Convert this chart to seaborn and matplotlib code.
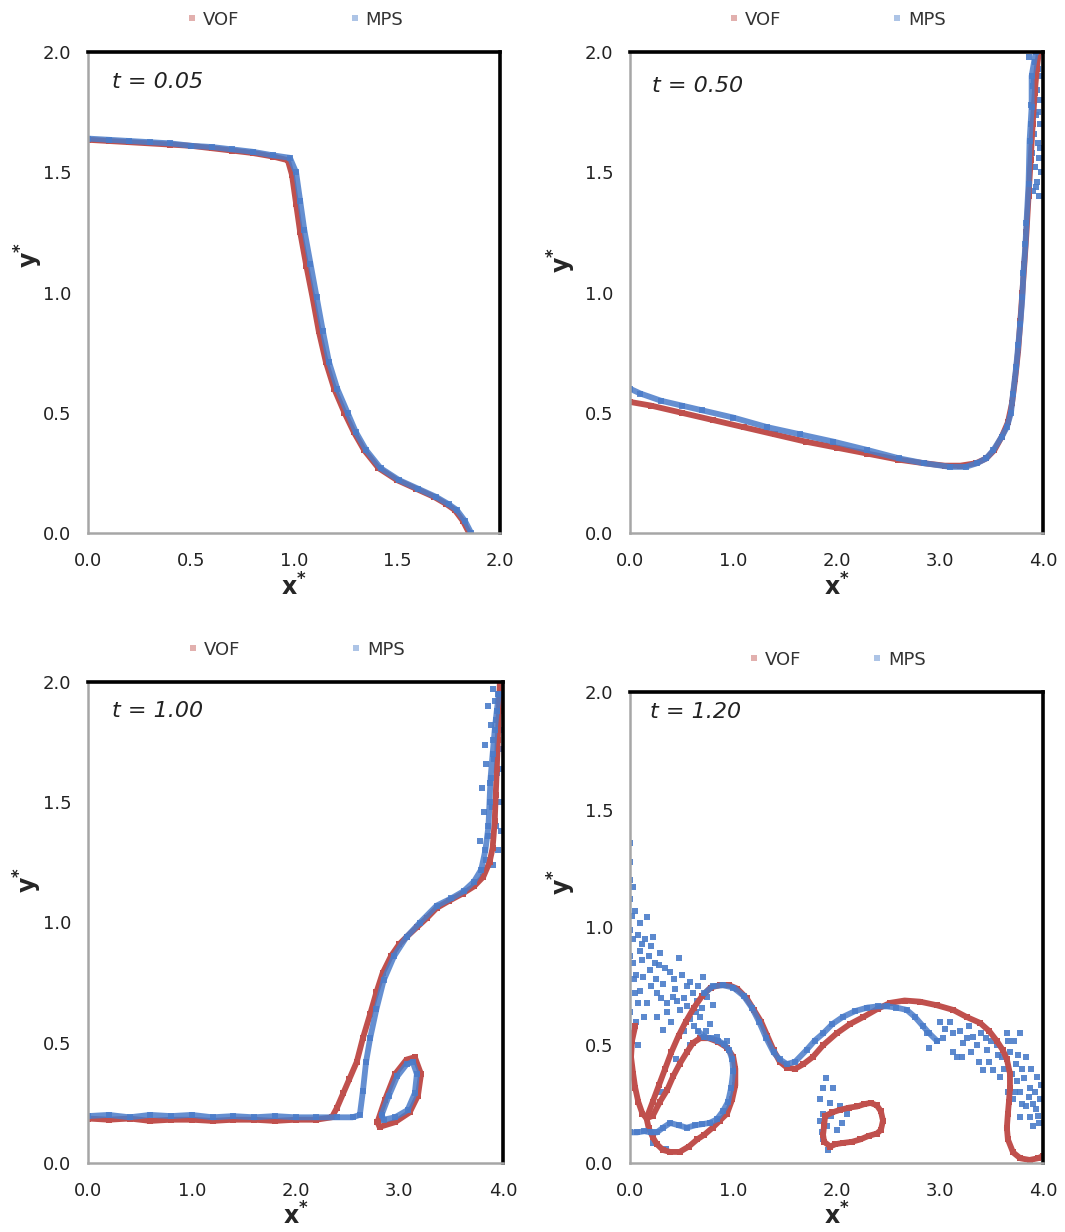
import matplotlib
matplotlib.use('Agg')
import matplotlib.pyplot as plt
from matplotlib.lines import Line2D
import seaborn as sns

# ---- data (x*, y*) ----
# t = 0.05
p1_vof = [(0.0, 1.635), (0.1, 1.63), (0.2, 1.625), (0.3, 1.62), (0.4, 1.615), (0.5, 1.61),
          (0.6, 1.60), (0.7, 1.59), (0.8, 1.58), (0.9, 1.565), (0.97, 1.55), (0.99, 1.49),
          (1.01, 1.37), (1.03, 1.25), (1.06, 1.11), (1.09, 0.98), (1.12, 0.84), (1.155, 0.71),
          (1.195, 0.60), (1.245, 0.50), (1.29, 0.42), (1.34, 0.345), (1.41, 0.27), (1.50, 0.22),
          (1.59, 0.185), (1.68, 0.15), (1.74, 0.12), (1.78, 0.096), (1.82, 0.05), (1.85, 0.0)]
p1_mps = [(0.0, 1.64), (0.1, 1.635), (0.2, 1.63), (0.3, 1.625), (0.4, 1.62), (0.5, 1.61),
          (0.6, 1.605), (0.7, 1.595), (0.8, 1.585), (0.9, 1.57), (0.98, 1.56), (1.01, 1.50),
          (1.03, 1.38), (1.05, 1.26), (1.08, 1.12), (1.11, 0.98), (1.14, 0.84), (1.17, 0.71),
          (1.21, 0.60), (1.26, 0.50), (1.30, 0.42), (1.35, 0.345), (1.42, 0.27), (1.51, 0.22),
          (1.60, 0.185), (1.69, 0.15), (1.75, 0.12), (1.79, 0.096), (1.83, 0.05), (1.86, 0.0)]

# t = 0.50
p2_vof = [(0.0, 0.545), (0.2, 0.53), (0.5, 0.50), (0.8, 0.47), (1.1, 0.44), (1.4, 0.41),
          (1.7, 0.38), (2.0, 0.355), (2.3, 0.33), (2.6, 0.305), (2.85, 0.29), (3.05, 0.28),
          (3.2, 0.28), (3.35, 0.29), (3.45, 0.31), (3.53, 0.345), (3.60, 0.40), (3.66, 0.46),
          (3.70, 0.54), (3.73, 0.64), (3.76, 0.76), (3.78, 0.88), (3.80, 1.0), (3.82, 1.12),
          (3.84, 1.25), (3.86, 1.40), (3.88, 1.55), (3.90, 1.70), (3.92, 1.83), (3.94, 1.93),
          (3.96, 2.0)]
p2_mps = [(0.0, 0.60), (0.1, 0.58), (0.3, 0.55), (0.5, 0.53), (0.7, 0.51), (1.0, 0.48),
          (1.33, 0.44), (1.65, 0.41), (1.97, 0.38), (2.3, 0.345), (2.61, 0.31), (2.85, 0.29),
          (3.10, 0.275), (3.25, 0.275), (3.36, 0.29), (3.45, 0.31), (3.52, 0.345), (3.60, 0.40),
          (3.65, 0.44), (3.69, 0.50), (3.71, 0.58), (3.74, 0.69), (3.76, 0.78), (3.78, 0.87),
          (3.80, 0.98), (3.81, 1.08), (3.83, 1.20), (3.84, 1.29), (3.86, 1.45), (3.87, 1.63),
          (3.89, 1.77), (3.89, 1.90), (3.93, 2.0)]
p2_mps_spray = [(3.86, 1.98), (3.92, 1.96), (3.95, 1.93), (3.97, 1.90), (3.90, 1.86), (3.94, 1.84),
                (3.96, 1.80), (3.88, 1.78), (3.93, 1.74), (3.97, 1.70), (3.91, 1.66), (3.95, 1.62),
                (3.89, 1.58), (3.96, 1.56), (3.92, 1.52), (3.98, 1.50), (3.94, 1.46), (3.90, 1.42),
                (3.96, 1.40), (3.93, 1.44), (3.97, 1.60), (3.95, 1.75), (3.88, 1.70), (3.91, 1.88)]

# t = 1.00
p3_vof = [(0.0, 0.185), (0.2, 0.18), (0.4, 0.185), (0.6, 0.175), (0.8, 0.18), (1.0, 0.18),
          (1.2, 0.175), (1.4, 0.18), (1.6, 0.18), (1.8, 0.175), (2.0, 0.18), (2.2, 0.18),
          (2.35, 0.19), (2.40, 0.23), (2.46, 0.29), (2.52, 0.35), (2.59, 0.42), (2.65, 0.52),
          (2.72, 0.62), (2.78, 0.71), (2.84, 0.79), (2.92, 0.86), (3.0, 0.91), (3.07, 0.94),
          (3.17, 0.98), (3.27, 1.02), (3.36, 1.06), (3.48, 1.09), (3.61, 1.12), (3.72, 1.15),
          (3.81, 1.19), (3.87, 1.25), (3.90, 1.31), (3.92, 1.42), (3.93, 1.53), (3.94, 1.64),
          (3.95, 1.76), (3.96, 1.88), (3.97, 2.0)]
p3_vof_loop = [(2.79, 0.17), (2.86, 0.26), (2.96, 0.37), (3.07, 0.43), (3.15, 0.44), (3.21, 0.37),
               (3.18, 0.28), (3.10, 0.21), (2.96, 0.17), (2.81, 0.15), (2.79, 0.17)]
p3_mps = [(0.0, 0.195), (0.2, 0.20), (0.4, 0.19), (0.6, 0.20), (0.8, 0.195), (1.0, 0.20),
          (1.2, 0.19), (1.4, 0.195), (1.6, 0.19), (1.8, 0.195), (2.0, 0.19), (2.2, 0.19),
          (2.4, 0.19), (2.55, 0.19), (2.62, 0.20), (2.65, 0.30), (2.68, 0.42), (2.72, 0.52),
          (2.78, 0.64), (2.85, 0.76), (2.95, 0.86), (3.07, 0.94), (3.2, 1.0), (3.36, 1.07),
          (3.5, 1.10), (3.62, 1.13), (3.72, 1.17), (3.79, 1.22), (3.83, 1.30), (3.86, 1.40),
          (3.87, 1.50), (3.88, 1.60), (3.90, 1.70), (3.92, 1.80), (3.94, 1.88), (3.96, 1.95)]
p3_mps_loop = [(2.83, 0.20), (2.90, 0.28), (2.98, 0.36), (3.07, 0.41), (3.13, 0.42), (3.17, 0.37),
               (3.15, 0.29), (3.08, 0.22), (2.96, 0.19), (2.85, 0.18), (2.83, 0.20)]
p3_mps_spray = [(3.80, 1.22), (3.84, 1.26), (3.90, 1.24), (3.95, 1.30), (3.78, 1.34), (3.86, 1.36),
                (3.93, 1.40), (3.98, 1.38), (3.82, 1.46), (3.89, 1.48), (3.96, 1.50), (3.80, 1.56),
                (3.87, 1.58), (3.94, 1.62), (3.84, 1.66), (3.91, 1.68), (3.97, 1.64), (3.83, 1.74),
                (3.90, 1.76), (3.96, 1.72), (3.88, 1.82), (3.93, 1.84), (3.99, 1.80), (3.86, 1.90),
                (3.92, 1.92), (3.97, 1.88), (3.90, 1.97), (3.95, 1.95)]

# t = 1.20
p4_vof_arch = [(0.05, 0.58), (0.02, 0.52), (0.01, 0.45), (0.03, 0.38), (0.05, 0.32), (0.08, 0.26),
               (0.12, 0.21), (0.16, 0.19), (0.22, 0.26), (0.28, 0.33), (0.34, 0.40), (0.40, 0.47),
               (0.47, 0.54), (0.54, 0.60), (0.62, 0.66), (0.70, 0.71), (0.78, 0.745), (0.87, 0.755),
               (0.96, 0.755), (1.04, 0.74), (1.13, 0.70), (1.20, 0.65), (1.27, 0.60), (1.33, 0.54),
               (1.39, 0.48), (1.45, 0.43), (1.52, 0.405), (1.60, 0.40), (1.68, 0.42), (1.77, 0.45),
               (1.87, 0.50), (2.0, 0.55), (2.13, 0.59), (2.26, 0.62), (2.4, 0.655), (2.52, 0.68),
               (2.66, 0.69), (2.81, 0.685), (2.97, 0.67), (3.13, 0.65), (3.26, 0.62), (3.39, 0.595),
               (3.48, 0.56), (3.55, 0.52), (3.61, 0.48), (3.65, 0.44), (3.68, 0.38), (3.68, 0.32),
               (3.67, 0.26), (3.66, 0.21), (3.65, 0.15), (3.66, 0.10), (3.71, 0.045), (3.78, 0.02),
               (3.87, 0.013), (3.95, 0.02), (4.0, 0.03)]
p4_vof_loop = [(0.16, 0.19), (0.22, 0.20), (0.29, 0.26), (0.36, 0.31), (0.42, 0.37), (0.48, 0.42),
               (0.55, 0.47), (0.61, 0.51), (0.68, 0.53), (0.76, 0.53), (0.85, 0.515), (0.94, 0.49),
               (1.0, 0.45), (1.02, 0.40), (1.02, 0.33), (0.99, 0.27), (0.94, 0.21), (0.87, 0.18),
               (0.80, 0.15), (0.72, 0.12), (0.65, 0.10), (0.57, 0.07), (0.48, 0.047), (0.39, 0.047),
               (0.32, 0.055), (0.26, 0.08), (0.22, 0.11), (0.18, 0.15), (0.16, 0.19)]
p4_vof_drop = [(1.88, 0.16), (1.89, 0.20), (1.96, 0.215), (2.03, 0.225), (2.12, 0.235), (2.20, 0.24),
               (2.27, 0.25), (2.33, 0.255), (2.39, 0.245), (2.43, 0.22), (2.45, 0.18), (2.43, 0.14),
               (2.39, 0.125), (2.31, 0.115), (2.23, 0.10), (2.15, 0.09), (2.06, 0.085), (1.99, 0.08),
               (1.94, 0.07), (1.88, 0.09), (1.87, 0.12), (1.88, 0.16)]
p4_mps_arch = [(0.72, 0.72), (0.80, 0.75), (0.90, 0.755), (1.0, 0.745), (1.10, 0.71), (1.18, 0.66),
               (1.25, 0.60), (1.32, 0.53), (1.39, 0.47), (1.45, 0.44), (1.52, 0.42), (1.60, 0.43),
               (1.71, 0.48), (1.79, 0.52), (1.87, 0.55), (1.96, 0.59), (2.06, 0.62), (2.18, 0.645),
               (2.30, 0.66), (2.40, 0.665), (2.49, 0.665), (2.58, 0.66), (2.68, 0.65), (2.76, 0.62),
               (2.84, 0.58), (2.90, 0.55), (2.97, 0.52)]
p4_mps_loop = [(0.0, 0.13), (0.07, 0.13), (0.14, 0.135), (0.20, 0.13), (0.26, 0.13), (0.32, 0.15),
               (0.39, 0.17), (0.47, 0.16), (0.55, 0.15), (0.63, 0.16), (0.70, 0.165), (0.77, 0.17),
               (0.84, 0.185), (0.90, 0.22), (0.95, 0.26), (0.98, 0.32), (1.0, 0.39), (0.99, 0.44),
               (0.96, 0.48), (0.91, 0.505), (0.85, 0.52), (0.78, 0.53), (0.72, 0.535), (0.66, 0.56)]
p4_mps_spray = [(0.0, 1.36), (0.0, 1.28), (0.03, 1.17), (0.0, 1.12), (0.05, 1.07), (0.16, 1.045),
                (0.10, 1.02), (0.0, 0.99), (0.22, 0.96), (0.03, 0.95), (0.10, 0.90), (0.29, 0.89),
                (0.47, 0.87), (0.03, 0.85), (0.19, 0.82), (0.39, 0.81), (0.13, 0.79), (0.32, 0.76),
                (0.55, 0.75), (0.71, 0.79), (0.10, 0.73), (0.26, 0.72), (0.42, 0.705), (0.61, 0.72),
                (0.75, 0.705), (0.36, 0.68), (0.55, 0.665), (0.16, 0.68), (0.68, 0.62), (0.36, 0.64),
                (0.0, 0.64), (0.32, 0.565), (0.77, 0.59), (0.58, 0.61), (0.48, 0.65), (0.06, 0.60),
                (0.20, 0.92), (0.25, 0.78), (0.05, 0.72), (0.12, 0.86), (0.44, 0.74), (0.52, 0.70),
                (0.65, 0.69), (0.28, 0.84), (0.02, 0.55), (0.08, 0.50), (0.06, 0.80), (0.0, 0.88),
                (0.15, 0.95), (0.40, 0.60), (0.62, 0.58), (0.84, 0.535), (0.94, 0.52),
                (0.30, 0.30), (0.45, 0.44), (0.58, 0.50), (0.22, 0.085), (0.35, 0.06),
                (0.0, 1.20), (0.02, 1.05), (0.08, 0.97), (0.12, 0.93), (0.18, 0.88), (0.24, 0.85),
                (0.34, 0.83), (0.43, 0.78), (0.50, 0.80), (0.58, 0.77), (0.66, 0.75), (0.70, 0.66),
                (0.64, 0.64), (0.46, 0.69), (0.30, 0.70), (0.20, 0.75), (0.08, 0.68), (0.14, 0.62),
                (0.04, 0.78), (0.26, 0.62), (0.52, 0.56), (0.74, 0.56), (0.80, 0.67),
                (1.87, 0.32), (1.97, 0.32), (1.84, 0.27), (1.94, 0.255), (2.03, 0.24), (1.87, 0.21),
                (1.91, 0.155), (2.0, 0.14), (1.87, 0.10), (1.92, 0.055), (2.10, 0.21), (1.90, 0.36),
                (1.84, 0.18), (1.86, 0.13), (2.05, 0.17), (1.95, 0.20),
                (2.88, 0.55), (2.90, 0.49), (2.97, 0.52), (3.05, 0.57), (3.13, 0.55), (3.13, 0.47),
                (3.17, 0.45), (3.23, 0.51), (3.32, 0.535), (3.28, 0.58), (3.40, 0.55), (3.46, 0.48),
                (3.42, 0.395), (3.52, 0.395), (3.50, 0.52), (3.58, 0.365), (3.60, 0.45), (3.68, 0.47),
                (3.65, 0.55), (3.72, 0.52), (3.78, 0.55), (3.84, 0.45), (3.80, 0.40), (3.75, 0.35),
                (3.71, 0.27), (3.78, 0.30), (3.87, 0.32), (3.94, 0.365), (3.97, 0.27), (3.90, 0.25),
                (3.87, 0.195), (3.78, 0.195), (3.90, 0.155), (3.95, 0.20), (3.84, 0.24), (3.74, 0.42),
                (3.56, 0.46), (3.36, 0.50), (3.20, 0.56), (3.0, 0.60), (3.92, 0.30), (3.98, 0.33),
                (3.66, 0.30), (3.03, 0.53), (3.10, 0.60), (3.22, 0.45), (3.30, 0.47), (3.38, 0.43),
                (3.48, 0.43), (3.55, 0.50), (3.62, 0.40), (3.70, 0.38), (3.76, 0.46), (3.82, 0.36),
                (3.88, 0.40), (3.93, 0.23), (3.86, 0.28), (3.80, 0.25), (3.96, 0.17), (3.73, 0.30),
                (3.66, 0.52), (3.45, 0.53), (3.26, 0.53)]

time_labels = ['t = 0.05', 't = 0.50', 't = 1.00', 't = 1.20']
x_limits = [2.0, 4.0, 4.0, 4.0]
x_steps = [0.5, 1.0, 1.0, 1.0]
series_names = ['VOF', 'MPS']

VOF_COLOR = '#c0504d'
MPS_COLOR = '#4a7cc9'

sns.set_theme(style='white')
plt.rcParams['font.family'] = ['DejaVu Sans']


def curve(ax, pts, color, alpha=1.0):
    xs = [p[0] for p in pts]
    ys = [p[1] for p in pts]
    sns.lineplot(x=xs, y=ys, sort=False, estimator=None, color=color, lw=4.2,
                 marker='s', markersize=4.5, markeredgewidth=0, alpha=alpha, ax=ax)


def spray(ax, pts, color):
    xs = [p[0] for p in pts]
    ys = [p[1] for p in pts]
    sns.scatterplot(x=xs, y=ys, marker='s', s=14, color=color, linewidth=0, alpha=0.9, ax=ax)


fig = plt.figure(figsize=(10.65, 12.32), dpi=100)
W, H = 1065, 1232
boxes = [(88, 52, 500, 533), (630, 52, 1043, 533), (88, 682, 503, 1163), (630, 692, 1043, 1163)]
axes = [fig.add_axes([l / W, 1 - b / H, (r - l) / W, (b - t) / H]) for l, t, r, b in boxes]

# panel contents
curve(axes[0], p1_vof, VOF_COLOR)
curve(axes[0], p1_mps, MPS_COLOR, 0.85)

curve(axes[1], p2_vof, VOF_COLOR)
curve(axes[1], p2_mps, MPS_COLOR, 0.85)
spray(axes[1], p2_mps_spray, MPS_COLOR)

curve(axes[2], p3_vof, VOF_COLOR)
curve(axes[2], p3_vof_loop, VOF_COLOR)
curve(axes[2], p3_mps, MPS_COLOR, 0.85)
curve(axes[2], p3_mps_loop, MPS_COLOR, 0.85)
spray(axes[2], p3_mps_spray, MPS_COLOR)

curve(axes[3], p4_vof_arch, VOF_COLOR)
curve(axes[3], p4_vof_loop, VOF_COLOR)
curve(axes[3], p4_vof_drop, VOF_COLOR)
curve(axes[3], p4_mps_arch, MPS_COLOR, 0.85)
curve(axes[3], p4_mps_loop, MPS_COLOR, 0.85)
spray(axes[3], p4_mps_spray, MPS_COLOR)

t_pos = [(0.058, 0.938), (0.053, 0.93), (0.058, 0.94), (0.048, 0.957)]
ylab_pos = [(-0.105, 0.578), (-0.125, 0.568), (-0.105, 0.588), (-0.125, 0.597)]
xlab_y = [-0.085, -0.085, -0.082, -0.084]
leg_gap = [6.0, 6.0, 6.0, 3.8]

for i, ax in enumerate(axes):
    xmax = x_limits[i]
    ax.set_xlim(0, xmax)
    ax.set_ylim(0, 2.0)
    n = int(round(xmax / x_steps[i])) + 1
    ax.set_xticks([k * x_steps[i] for k in range(n)])
    ax.set_xticklabels(['%.1f' % (k * x_steps[i]) for k in range(n)])
    ax.set_yticks([0.0, 0.5, 1.0, 1.5, 2.0])
    ax.set_yticklabels(['0.0', '0.5', '1.0', '1.5', '2.0'])
    ax.tick_params(axis='both', direction='in', length=4, width=1, color='#a0a0a0',
                   labelsize=13, labelcolor='#222222')
    ax.tick_params(axis='x', pad=14)
    ax.tick_params(axis='y', pad=12)
    for side in ['left', 'bottom']:
        ax.spines[side].set_color('#a6a6a6')
        ax.spines[side].set_linewidth(1.8)
    for side in ['top', 'right']:
        ax.spines[side].set_color('black')
        ax.spines[side].set_linewidth(2.6)
    ax.set_xlabel(r'$\mathbf{x^{*}}$', fontsize=17)
    ax.set_ylabel(r'$\mathbf{y^{*}}$', fontsize=17)
    ax.xaxis.set_label_coords(0.5, xlab_y[i])
    ax.yaxis.set_label_coords(*ylab_pos[i])
    ax.text(t_pos[i][0], t_pos[i][1], time_labels[i], transform=ax.transAxes,
            fontsize=16, style='italic', va='center', ha='left', color='#222222')
    handles = [Line2D([0], [0], marker='s', ls='', color=VOF_COLOR, ms=4, mew=0, alpha=0.45),
               Line2D([0], [0], marker='s', ls='', color=MPS_COLOR, ms=4, mew=0, alpha=0.45)]
    leg = ax.legend(handles, series_names, loc='lower center', bbox_to_anchor=(0.5, 1.015),
                    ncol=2, frameon=False, fontsize=13, columnspacing=leg_gap[i],
                    handletextpad=0.2, handlelength=0.8)
    for txt in leg.get_texts():
        txt.set_color('#333333')

fig.savefig('out.png', dpi=100)
